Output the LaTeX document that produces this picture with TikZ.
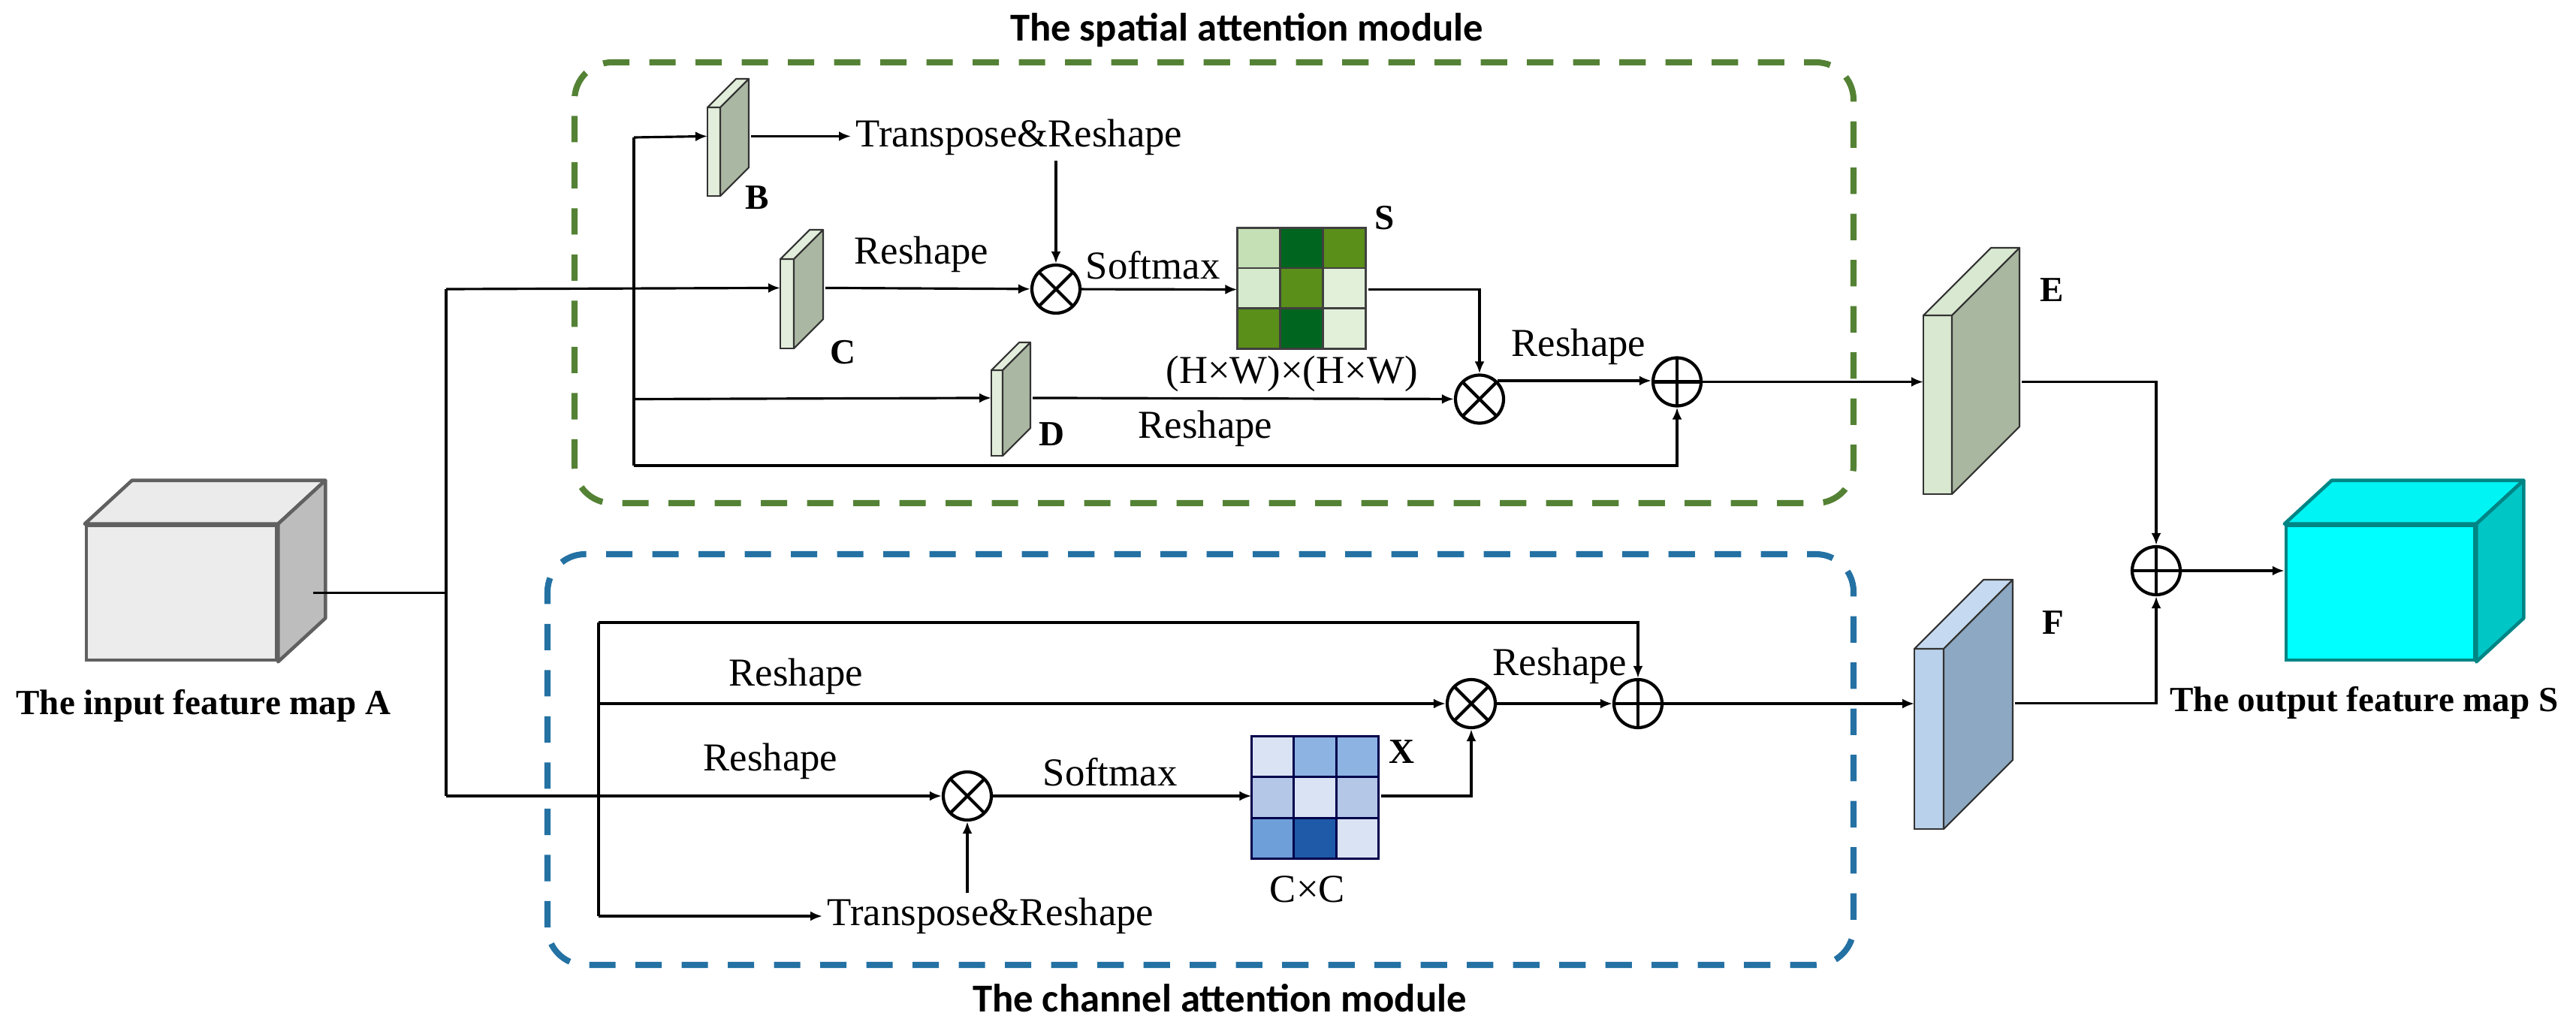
\documentclass[tikz,border=0pt]{standalone}
\usepackage{fontspec}
\setmainfont{Liberation Serif}
\newfontfamily\titlefont{Carlito}
\usetikzlibrary{arrows.meta,calc,positioning}

\definecolor{spgreen}{RGB}{84,130,53}
\definecolor{chblue}{RGB}{36,113,163}
\definecolor{inFront}{HTML}{ECECEC}
\definecolor{inTop}{HTML}{EBEBEB}
\definecolor{inSide}{HTML}{BDBDBD}
\definecolor{inEdge}{HTML}{606060}
\definecolor{outFront}{HTML}{00FFFF}
\definecolor{outTop}{HTML}{00F4F4}
\definecolor{outSide}{HTML}{00C6C6}
\definecolor{outEdge}{HTML}{008585}
\definecolor{pFront}{HTML}{E2EEDB}
\definecolor{pSide}{HTML}{AAB7A2}
\definecolor{eFront}{HTML}{D9E8D0}
\definecolor{eSide}{HTML}{A9B6A0}
\definecolor{fFront}{HTML}{B9D1EA}
\definecolor{fTop}{HTML}{C5DAF0}
\definecolor{fSide}{HTML}{8DA8C3}
\definecolor{plateEdge}{HTML}{333333}
\definecolor{gA}{HTML}{C5E0B4}
\definecolor{gB}{HTML}{00661F}
\definecolor{gC}{HTML}{5A8F1A}
\definecolor{gD}{HTML}{D6EBCD}
\definecolor{gE}{HTML}{E2F0DA}
\definecolor{bA}{HTML}{DAE3F3}
\definecolor{bB}{HTML}{8DB3E2}
\definecolor{bC}{HTML}{B4C7E7}
\definecolor{bD}{HTML}{6F9FD8}
\definecolor{bE}{HTML}{1F5AA8}

% feature plate: name, x, y (front lower left), w, h, depth, front, top, side
\newcommand{\featplate}[9]{%
  \filldraw[fill=#7, draw=plateEdge, line width=0.6pt] (#2,#3) rectangle ++(#4,#5);
  \filldraw[fill=#8, draw=plateEdge, line width=0.6pt, line join=round] (#2,#3+#5) -- ++(#6,#6) -- ++(#4,0) -- ++(-#6,-#6) -- cycle;
  \filldraw[fill=#9, draw=plateEdge, line width=0.6pt, line join=round] (#2+#4,#3) -- ++(#6,#6) -- ++(0,#5) -- ++(-#6,-#6) -- cycle;
  \node[inner sep=0, minimum width={(#4+#6)*1cm}, minimum height={(#5+#6)*1cm}, anchor=south west] (#1) at (#2,#3) {};
}
% feature cube: name, centre, w, h, front, top, side, edge
\newcommand{\featcube}[8]{%
  \node[draw=#8, fill=#5, line width=1.3pt, minimum width=#3cm, minimum height=#4cm, inner sep=0] (#1) at #2 {};
  \filldraw[fill=#6, draw=#8, line width=1.3pt, line join=round] (#1.north west) -- ++(0.63,0.58) -- ($(#1.north east)+(0.63,0.58)$) -- (#1.north east) -- cycle;
  \filldraw[fill=#7, draw=#8, line width=1.3pt, line join=round] (#1.south east) -- ++(0.63,0.58) -- ($(#1.north east)+(0.63,0.58)$) -- (#1.north east) -- cycle;
}

\begin{document}
\begin{tikzpicture}[
    line width=0.9pt,
    arr/.style={-{Latex[length=1.6mm,width=1.3mm]}},
    opmul/.style={circle, draw, line width=1.2pt, minimum size=0.64cm, inner sep=0,
      path picture={\draw[line width=1.2pt] (path picture bounding box.north west) -- (path picture bounding box.south east)
        (path picture bounding box.north east) -- (path picture bounding box.south west);}},
    opadd/.style={circle, draw, line width=1.2pt, minimum size=0.64cm, inner sep=0,
      path picture={\draw[line width=1.2pt] (path picture bounding box.north) -- (path picture bounding box.south)
        (path picture bounding box.west) -- (path picture bounding box.east);}},
    lbl/.style={font=\fontsize{15}{17}\selectfont, inner sep=1.5pt},
    tag/.style={font=\fontsize{13.4}{15}\selectfont\bfseries, inner sep=1pt},
    modtitle/.style={font=\titlefont\fontsize{15}{18}\selectfont\bfseries},
    spbox/.style={draw=spgreen, line width=2.3pt, dash pattern=on 10pt off 7.5pt, rounded corners=0.5cm},
    chbox/.style={draw=chblue, line width=2.3pt, dash pattern=on 10pt off 7.5pt, rounded corners=0.5cm},
    cell/.style={line width=0.8pt}
  ]
  \useasboundingbox (0,0) rectangle (34.30,13.64);

  % module frames
  \draw[spbox] (7.65,6.94) rectangle (24.68,12.81);
  \draw[chbox] (7.29,0.79) rectangle (24.68,6.26);
  \node[modtitle] (sptitle) at (16.60,13.24) {The spatial attention module};
  \node[modtitle] (chtitle) at (16.24,0.35) {The channel attention module};

  % input and output maps
  \featcube{inA}{(2.415,5.745)}{2.53}{1.79}{inFront}{inTop}{inSide}{inEdge}
  \featcube{outS}{(31.695,5.745)}{2.51}{1.79}{outFront}{outTop}{outSide}{outEdge}
  \node[tag] (inlbl) at (2.71,4.24) {The input feature map A};
  \node[tag] (outlbl) at (31.48,4.28) {The output feature map S};

  % plates
  \featplate{B}{9.42}{11.03}{0.17}{1.18}{0.38}{pFront}{pFront}{pSide}
  \featplate{C}{10.39}{9.00}{0.18}{1.19}{0.39}{pFront}{pFront}{pSide}
  \featplate{D}{13.20}{7.57}{0.15}{1.14}{0.37}{pFront}{pFront}{pSide}
  \featplate{E}{25.61}{7.06}{0.38}{2.38}{0.90}{eFront}{eFront}{eSide}
  \featplate{F}{25.49}{2.60}{0.39}{2.40}{0.92}{fFront}{fTop}{fSide}
  \node[tag] at (10.08,11.01) {B};
  \node[tag] at (11.22,8.95) {C};
  \node[tag] at (14.00,7.86) {D};
  \node[tag] at (27.32,9.78) {E};
  \node[tag] at (27.34,5.35) {F};

  % attention matrices
  \node[minimum width=1.71cm, minimum height=1.61cm, inner sep=0] (S) at (17.345,9.785) {};
  \foreach \cl [count=\k from 0] in {gA,gB,gC,gD,gC,gE,gC,gB,gE}{
    \pgfmathtruncatemacro\cc{mod(\k,3)}
    \pgfmathtruncatemacro\rr{\k/3}
    \filldraw[cell, fill=\cl, draw=black!75] ($(S.north west)+(\cc*0.57,-\rr*0.5367)$) rectangle ++(0.57,-0.5367);
  }
  \node[minimum width=1.69cm, minimum height=1.63cm, inner sep=0] (X) at (17.525,3.005) {};
  \foreach \cl [count=\k from 0] in {bA,bB,bB,bC,bA,bC,bD,bE,bA}{
    \pgfmathtruncatemacro\cc{mod(\k,3)}
    \pgfmathtruncatemacro\rr{\k/3}
    \filldraw[cell, fill=\cl, draw=black!70!blue] ($(X.north west)+(\cc*0.5633,-\rr*0.5433)$) rectangle ++(0.5633,-0.5433);
  }
  \node[tag] at (18.44,10.74) {S};
  \node[tag] at (18.66,3.63) {X};

  % operators
  \node[opmul] (o1) at (14.06,9.79) {};
  \node[opmul] (o2) at (19.70,8.325) {};
  \node[opadd] (p1) at (22.33,8.555) {};
  \node[opmul] (o3) at (19.59,4.27) {};
  \node[opmul] (o4) at (12.88,3.04) {};
  \node[opadd] (p2) at (21.81,4.27) {};
  \node[opadd] (p3) at (28.71,6.04) {};

  % texts on the paths
  \node[lbl, anchor=west] (tr1) at (11.33,11.81) {Transpose\&Reshape};
  \node[lbl] (rs1) at (12.27,10.25) {Reshape};
  \node[lbl] (sm1) at (15.35,10.11) {Softmax};
  \node[lbl] (hw) at (17.20,8.66) {(H×W)×(H×W)};
  \node[lbl] (rs2) at (16.05,7.93) {Reshape};
  \node[lbl] (rs3) at (21.02,9.02) {Reshape};
  \node[lbl] (rs4) at (10.60,4.63) {Reshape};
  \node[lbl] (rs5) at (10.26,3.50) {Reshape};
  \node[lbl] (sm2) at (14.78,3.36) {Softmax};
  \node[lbl] (cc) at (17.41,1.80) {C×C};
  \node[lbl] (rs6) at (20.77,4.77) {Reshape};
  \node[lbl, anchor=west] (tr2) at (10.95,1.44) {Transpose\&Reshape};

  % branch points
  \coordinate (t1) at (5.94,9.79);
  \coordinate (t2) at (5.94,3.04);
  \coordinate (sB) at (8.44,11.81);
  \coordinate (sD) at (8.44,8.325);
  \coordinate (sBot) at (8.44,7.44);
  \coordinate (cTop) at (7.97,5.35);
  \coordinate (cMid) at (7.97,4.27);
  \coordinate (cBot) at (7.97,1.44);

  % spatial branch
  \draw ($(inA.east)+(0.47,0)$) -- (inA.east -| t1);
  \draw (t1) -- (t2);
  \draw[arr] (t1) -- (C.west);
  \draw[arr] (C.east) -- (o1);
  \draw (sB) -- (sBot);
  \draw[arr] (sB) -- (B.west);
  \draw[arr] (B.east) -- (B.east -| tr1.west);
  \draw[arr] (tr1.south -| o1) -- (o1);
  \draw[arr] (o1) -- (S.west);
  \draw[arr] (S.east) -| (o2);
  \draw[arr] (sD) -- (D.west);
  \draw[arr] (D.east) -- (o2);
  \draw[arr] (o2.46) -- (o2.46 -| p1.west);
  \draw[arr] (sBot) -| (p1);
  \draw[arr] (p1) -- (p1 -| E.west);
  \draw[arr] (E.east |- p1) -| (p3);

  % channel branch
  \draw[arr] (t2) -- (o4);
  \draw (cTop) -- (cBot);
  \draw[arr] (cTop) -| (p2);
  \draw[arr] (cMid) -- (o3);
  \draw[arr] (cBot) -- (tr2.west);
  \draw[arr] (tr2.north -| o4) -- (o4);
  \draw[arr] (o4) -- (o4 -| X.west);
  \draw[arr] (X.east |- o4) -| (o3);
  \draw[arr] (o3) -- (p2);
  \draw[arr] (p2) -- (p2 -| F.west);
  \draw[arr] (F.east) -| (p3);
  \draw[arr] (p3) -- (p3 -| outS.west);
\end{tikzpicture}
\end{document}
